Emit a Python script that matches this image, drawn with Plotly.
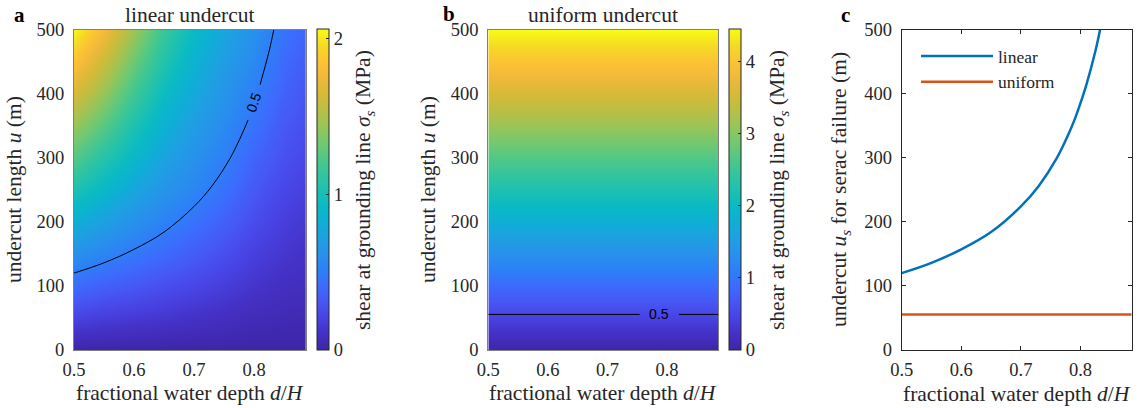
import plotly.graph_objects as go

# ---------------- data ----------------
# panel a heatmap grid
A_X = [0.5, 0.55, 0.6, 0.65, 0.7, 0.75, 0.8, 0.85, 0.886]
A_U = [0, 50, 100, 150, 200, 250, 300, 350, 400, 450, 500]
A_Z = [
    [0.00, 0.00, 0.00, 0.00, 0.00, 0.00, 0.00, 0.00, 0.00],
    [0.21, 0.18, 0.16, 0.14, 0.11, 0.09, 0.06, 0.05, 0.04],
    [0.42, 0.36, 0.32, 0.27, 0.23, 0.18, 0.13, 0.09, 0.08],
    [0.62, 0.55, 0.48, 0.41, 0.34, 0.27, 0.19, 0.14, 0.11],
    [0.83, 0.72, 0.62, 0.53, 0.45, 0.36, 0.26, 0.18, 0.15],
    [1.03, 0.90, 0.76, 0.64, 0.55, 0.45, 0.32, 0.23, 0.19],
    [1.24, 1.07, 0.90, 0.74, 0.62, 0.52, 0.38, 0.28, 0.23],
    [1.44, 1.25, 1.03, 0.84, 0.70, 0.58, 0.45, 0.32, 0.27],
    [1.65, 1.43, 1.17, 0.94, 0.78, 0.64, 0.51, 0.37, 0.30],
    [1.85, 1.60, 1.31, 1.05, 0.85, 0.70, 0.57, 0.41, 0.34],
    [2.06, 1.78, 1.45, 1.15, 0.93, 0.76, 0.62, 0.46, 0.38],
]
A_ZMAX = 2.06

# panel b heatmap (depends on undercut only)
B_X = [0.5, 0.886]
B_U = [0, 50, 100, 150, 200, 250, 300, 350, 400, 450, 500]
B_SIGMA = [0.00, 0.45, 0.89, 1.34, 1.78, 2.23, 2.67, 3.12, 3.56, 4.01, 4.45]
B_ZMAX = 4.45

# panel c curves
LIN_X = [0.5, 0.55, 0.6, 0.65, 0.7, 0.73, 0.76, 0.78, 0.79, 0.80, 0.81, 0.825, 0.833]
LIN_U = [120, 136, 157, 184, 224, 256, 299, 337, 359, 385, 414, 466, 500]
UNI_X = [0.5, 0.886]
UNI_U = [55.5, 55.5]

X_RANGE = [0.5, 0.886]
Y_RANGE = [0, 500]
X_TICKS = [0.5, 0.6, 0.7, 0.8]
Y_TICKS = [0, 100, 200, 300, 400, 500]
CB_A_TICKS = [0, 1, 2]
CB_B_TICKS = [0, 1, 2, 3, 4]

# ---------------- style ----------------
W, H = 1145, 408
SERIF = "Liberation Serif"
SANS = "Liberation Sans"
TXT = "#262626"
TICK_SIZE = 18.5
TITLE_SIZE = 21.5
PARULA = [
    [0.00, "#3e26a8"], [0.05, "#4430c4"], [0.10, "#4842e2"], [0.15, "#4756f4"],
    [0.20, "#3d6bfd"], [0.25, "#2d80f7"], [0.30, "#2891ec"], [0.35, "#1ea0e2"],
    [0.40, "#0eafd5"], [0.45, "#0abac4"], [0.50, "#1ec1b1"], [0.55, "#35c59c"],
    [0.60, "#52c886"], [0.65, "#76c86e"], [0.70, "#9bc457"], [0.75, "#bcbe44"],
    [0.80, "#d7ba37"], [0.85, "#f0b93b"], [0.90, "#fdc334"], [0.95, "#f5db24"],
    [1.00, "#f9fb15"],
]

def px_x(p):
    return p / W

def px_y(p):
    return 1 - p / H

PLOT_TOP, PLOT_BOT = 29.5, 350
DOM_Y = [px_y(PLOT_BOT), px_y(PLOT_TOP)]
DOM_A = [px_x(74), px_x(305.7)]
DOM_B = [px_x(488.3), px_x(718.3)]
DOM_C = [px_x(901.7), px_x(1131.7)]

fig = go.Figure()

def colorbar(left_px, ticks):
    return dict(
        x=px_x(left_px), xanchor="left", xref="paper",
        y=px_y(PLOT_BOT), yanchor="bottom", yref="paper",
        lenmode="pixels", len=PLOT_BOT - PLOT_TOP,
        thickness=12, thicknessmode="pixels", xpad=0, ypad=0,
        outlinecolor=TXT, outlinewidth=1,
        ticks="inside", ticklen=3, tickcolor=TXT,
        tickvals=ticks, tickfont=dict(family=SERIF, size=TICK_SIZE, color=TXT),
    )

# panel a heatmap
fig.add_trace(go.Heatmap(
    x=A_X, y=A_U, z=A_Z, zmin=0, zmax=A_ZMAX, colorscale=PARULA,
    zsmooth="best", xaxis="x", yaxis="y",
    colorbar=colorbar(316.7, CB_A_TICKS), hoverinfo="skip",
))

# panel a 0.5 contour (same curve as panel c "linear"), split around its label
seg1 = [(x, u) for x, u in zip(LIN_X, LIN_U) if u <= 359]
seg2 = [(x, u) for x, u in zip(LIN_X, LIN_U) if u >= 414]
for seg in (seg1, seg2):
    fig.add_trace(go.Scatter(
        x=[p[0] for p in seg], y=[p[1] for p in seg], mode="lines",
        line=dict(color="black", width=1, shape="spline"),
        xaxis="x", yaxis="y", showlegend=False, hoverinfo="skip",
    ))
lab_x = (seg1[-1][0] + seg2[0][0]) / 2
lab_u = (seg1[-1][1] + seg2[0][1]) / 2
fig.add_annotation(
    x=lab_x, y=lab_u, xref="x", yref="y", text="0.5", showarrow=False,
    xanchor="center", yanchor="middle",
    textangle=-71, font=dict(family=SANS, size=14, color="black"),
)

# panel b heatmap
B_Z = [[s, s] for s in B_SIGMA]
fig.add_trace(go.Heatmap(
    x=B_X, y=B_U, z=B_Z, zmin=0, zmax=B_ZMAX, colorscale=PARULA,
    zsmooth="best", xaxis="x2", yaxis="y2",
    colorbar=colorbar(729.3, CB_B_TICKS), hoverinfo="skip",
))
# panel b 0.5 contour (same level as "uniform"), split around label
b_lab_x = 0.787
gap = 0.033
for xs in ([UNI_X[0], b_lab_x - gap], [b_lab_x + gap, UNI_X[1]]):
    fig.add_trace(go.Scatter(
        x=xs, y=UNI_U, mode="lines", line=dict(color="black", width=1),
        xaxis="x2", yaxis="y2", showlegend=False, hoverinfo="skip",
    ))
fig.add_annotation(
    x=b_lab_x, y=UNI_U[0], xref="x2", yref="y2", text="0.5", showarrow=False,
    xanchor="center", yanchor="middle",
    font=dict(family=SANS, size=14, color="black"),
)

# panel c
fig.add_trace(go.Scatter(
    x=LIN_X, y=LIN_U, mode="lines", name="linear",
    line=dict(color="#0072bd", width=2.5, shape="spline"),
    xaxis="x3", yaxis="y3",
))
fig.add_trace(go.Scatter(
    x=UNI_X, y=UNI_U, mode="lines", name="uniform",
    line=dict(color="#d95319", width=2.5),
    xaxis="x3", yaxis="y3",
))

tickfont = dict(family=SERIF, size=TICK_SIZE, color=TXT)

def xax(dom, anchor, c_style=False):
    d = dict(domain=dom, anchor=anchor, range=X_RANGE, tickvals=X_TICKS,
             ticktext=[f"{v:.1f}" for v in X_TICKS], tickfont=tickfont,
             showgrid=False, zeroline=False,
             showline=True, linewidth=1,
             linecolor=TXT if c_style else "#7f7f7f",
             ticklabelstandoff=3)
    if c_style:
        d.update(ticks="inside", ticklen=4, tickcolor=TXT, mirror="ticks")
    else:
        d.update(ticks="", mirror=True)
    return d

def yax(dom, anchor, c_style=False):
    d = dict(domain=DOM_Y, anchor=anchor, range=Y_RANGE, tickvals=Y_TICKS,
             tickfont=tickfont, showgrid=False, zeroline=False,
             showline=True, linewidth=1,
             linecolor=TXT if c_style else "#7f7f7f",
             ticklabelstandoff=5)
    if c_style:
        d.update(ticks="inside", ticklen=4, tickcolor=TXT, mirror="ticks")
    else:
        d.update(ticks="", mirror=True)
    return d

fig.update_layout(
    width=W, height=H, margin=dict(l=0, r=0, t=0, b=0, autoexpand=False),
    paper_bgcolor="white", plot_bgcolor="white",
    xaxis=xax(DOM_A, "y"), yaxis=yax(DOM_Y, "x"),
    xaxis2=xax(DOM_B, "y2"), yaxis2=yax(DOM_Y, "x2"),
    xaxis3=xax(DOM_C, "y3", True), yaxis3=yax(DOM_Y, "x3", True),
    showlegend=True,
    legend=dict(x=px_x(916), y=px_y(38), xanchor="left", yanchor="top",
                bgcolor="rgba(0,0,0,0)", itemwidth=72,
                font=dict(family=SERIF, size=17.5, color=TXT),
                tracegroupgap=0),
    font=dict(family=SERIF, color=TXT),
)

def note(text, x, y, size=TITLE_SIZE, angle=0, color=TXT):
    fig.add_annotation(text=text, x=px_x(x), y=px_y(y), xref="paper", yref="paper",
                       xanchor="center", yanchor="middle",
                       showarrow=False, textangle=angle,
                       font=dict(family=SERIF, size=size, color=color))

# titles
note("linear undercut", 190, 15)
note("uniform undercut", 603, 15)
# panel letters
note("<b>a</b>", 19, 15, size=21, color="black")
note("<b>b</b>", 449, 14, size=21, color="black")
note("<b>c</b>", 845, 15, size=21, color="black")
# x-axis titles
xt = "fractional water depth <i>d</i>/<i>H</i>"
note(xt, 190, 393)
note(xt, 603, 393)
note(xt, 1017, 394)
# y-axis titles
note("undercut length <i>u</i> (m)", 14, 190, angle=-90)
note("undercut length <i>u</i> (m)", 428, 190, angle=-90)
note("undercut <i>u<sub>s</sub></i> for serac failure (m)", 840, 190, angle=-90)
# colorbar titles
cbt = "shear at grounding line <i>σ<sub>s</sub></i> (MPa)"
note(cbt, 364, 190, angle=-90)
note(cbt, 778, 190, angle=-90)

fig.write_html("out.html")
